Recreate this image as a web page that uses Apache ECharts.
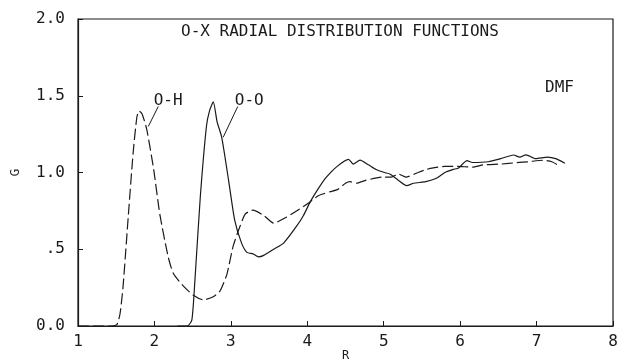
<!DOCTYPE html>
<html>
<head>
<meta charset="utf-8">
<script src="https://cdn.jsdelivr.net/npm/echarts@6/dist/echarts.min.js"></script>
<style>
  html, body { margin: 0; padding: 0; background: #fff; }
  #main { width: 618px; height: 362px; }
</style>
</head>
<body>
<div id="main"></div>
<script>
// O-H radial distribution (dashed)
var rOH = [1.00, 1.45, 1.51, 1.55, 1.59, 1.66, 1.72, 1.77, 1.80, 1.84, 1.90, 1.99, 2.07, 2.18, 2.25, 2.38, 2.51, 2.64, 2.77, 2.86, 2.95, 3.03, 3.12, 3.19, 3.29, 3.43, 3.56, 3.73, 3.88, 4.04, 4.15, 4.30, 4.40, 4.50, 4.56, 4.64, 4.77, 4.99, 5.10, 5.19, 5.29, 5.45, 5.56, 5.65, 5.80, 5.96, 6.16, 6.31, 6.53, 6.74, 6.89, 7.09, 7.20, 7.31];
var gOH = [0.00, 0.00, 0.01, 0.08, 0.26, 0.73, 1.12, 1.36, 1.40, 1.38, 1.28, 1.02, 0.73, 0.45, 0.34, 0.26, 0.20, 0.17, 0.19, 0.23, 0.34, 0.52, 0.65, 0.73, 0.755, 0.72, 0.67, 0.71, 0.755, 0.81, 0.85, 0.875, 0.89, 0.93, 0.94, 0.93, 0.95, 0.97, 0.97, 0.99, 0.97, 1.00, 1.02, 1.03, 1.04, 1.04, 1.035, 1.05, 1.055, 1.064, 1.07, 1.08, 1.07, 1.04];

// O-O radial distribution (solid)
var rOO = [2.30, 2.43, 2.49, 2.53, 2.60, 2.68, 2.72, 2.77, 2.82, 2.88, 2.97, 3.05, 3.14, 3.21, 3.29, 3.36, 3.43, 3.56, 3.69, 3.86, 3.95, 4.04, 4.15, 4.25, 4.39, 4.54, 4.60, 4.69, 4.80, 4.90, 5.01, 5.08, 5.19, 5.30, 5.39, 5.55, 5.69, 5.80, 5.91, 5.98, 6.09, 6.16, 6.37, 6.53, 6.70, 6.78, 6.86, 6.99, 7.14, 7.25, 7.37];
var gOO = [0.00, 0.00, 0.04, 0.30, 0.84, 1.30, 1.40, 1.46, 1.33, 1.23, 0.95, 0.69, 0.54, 0.48, 0.47, 0.45, 0.46, 0.50, 0.54, 0.65, 0.72, 0.81, 0.90, 0.97, 1.04, 1.086, 1.055, 1.08, 1.05, 1.02, 1.00, 0.99, 0.95, 0.914, 0.93, 0.94, 0.962, 1.00, 1.02, 1.03, 1.077, 1.065, 1.07, 1.09, 1.114, 1.10, 1.115, 1.09, 1.10, 1.09, 1.06];

var xTicks = [1, 8, 1];          // min, max, interval
var yTicks = [0, 2, 0.5];
var yLabels = {0: '0.0', 0.5: '.5', 1: '1.0', 1.5: '1.5', 2: '2.0'};

var ink = '#1a1a1a';
var font = 'DejaVu Sans Mono';

function pairs(xs, ys) {
  return xs.map(function (x, i) { return [x, ys[i]]; });
}

var myChart = echarts.init(document.getElementById('main'));

var option = {
  animation: false,
  backgroundColor: '#fff',
  textStyle: { fontFamily: font, color: ink },
  title: {
    text: 'O-X RADIAL DISTRIBUTION FUNCTIONS',
    left: 176,
    top: 19,
    textStyle: { fontFamily: font, fontSize: 16, fontWeight: 'normal', color: ink }
  },
  grid: {
    left: 78, right: 5, top: 19, bottom: 36,
    outerBoundsMode: 'none',
    containLabel: false,
    show: true, borderColor: ink, borderWidth: 1.2
  },
  xAxis: {
    type: 'value',
    min: xTicks[0], max: xTicks[1], interval: xTicks[2],
    name: 'R', nameLocation: 'middle', nameGap: 24, nameMoveOverlap: false,
    nameTextStyle: { fontFamily: font, fontSize: 12, color: ink, verticalAlign: 'top' },
    splitLine: { show: false },
    axisLine: { lineStyle: { color: ink, width: 1.2 } },
    axisTick: { inside: true, length: 5, lineStyle: { color: ink } },
    axisLabel: { margin: 8, fontFamily: font, fontSize: 16, color: ink }
  },
  yAxis: {
    type: 'value',
    min: yTicks[0], max: yTicks[1], interval: yTicks[2],
    name: 'G', nameLocation: 'middle', nameGap: 56, nameRotate: 90,
    nameTextStyle: { fontFamily: font, fontSize: 13, color: ink },
    splitLine: { show: false },
    axisLine: { lineStyle: { color: ink, width: 1.2 } },
    axisTick: { inside: true, length: 5, lineStyle: { color: ink } },
    axisLabel: {
      margin: 13, fontFamily: font, fontSize: 16, color: ink,
      formatter: function (v) { return yLabels[v] !== undefined ? yLabels[v] : v; }
    }
  },
  series: [
    {
      name: 'O-H',
      type: 'line',
      data: pairs(rOH, gOH),
      showSymbol: false,
      smooth: 0.2,
      lineStyle: { color: ink, width: 1.2, type: [11, 4] },
      markLine: {
        silent: true, symbol: 'none', label: { show: false },
        lineStyle: { color: ink, width: 1, type: 'solid' },
        data: [[{ coord: [2.05, 1.43] }, { coord: [1.92, 1.30] }]]
      },
      markPoint: {
        symbol: 'circle', symbolSize: 0, silent: true,
        label: { show: true, position: 'inside', formatter: '{b}', fontFamily: font, fontSize: 16, color: ink },
        data: [{ name: 'O-H', coord: [2.18, 1.47] }, { name: 'DMF', coord: [7.30, 1.55] }]
      }
    },
    {
      name: 'O-O',
      type: 'line',
      data: pairs(rOO, gOO),
      showSymbol: false,
      smooth: 0.2,
      lineStyle: { color: ink, width: 1.2, type: 'solid' },
      markLine: {
        silent: true, symbol: 'none', label: { show: false },
        lineStyle: { color: ink, width: 1, type: 'solid' },
        data: [[{ coord: [3.09, 1.43] }, { coord: [2.90, 1.23] }]]
      },
      markPoint: {
        symbol: 'circle', symbolSize: 0, silent: true,
        label: { show: true, position: 'inside', formatter: '{b}', fontFamily: font, fontSize: 16, color: ink },
        data: [{ name: 'O-O', coord: [3.24, 1.47] }]
      }
    }
  ]
};

myChart.setOption(option);
</script>
</body>
</html>
